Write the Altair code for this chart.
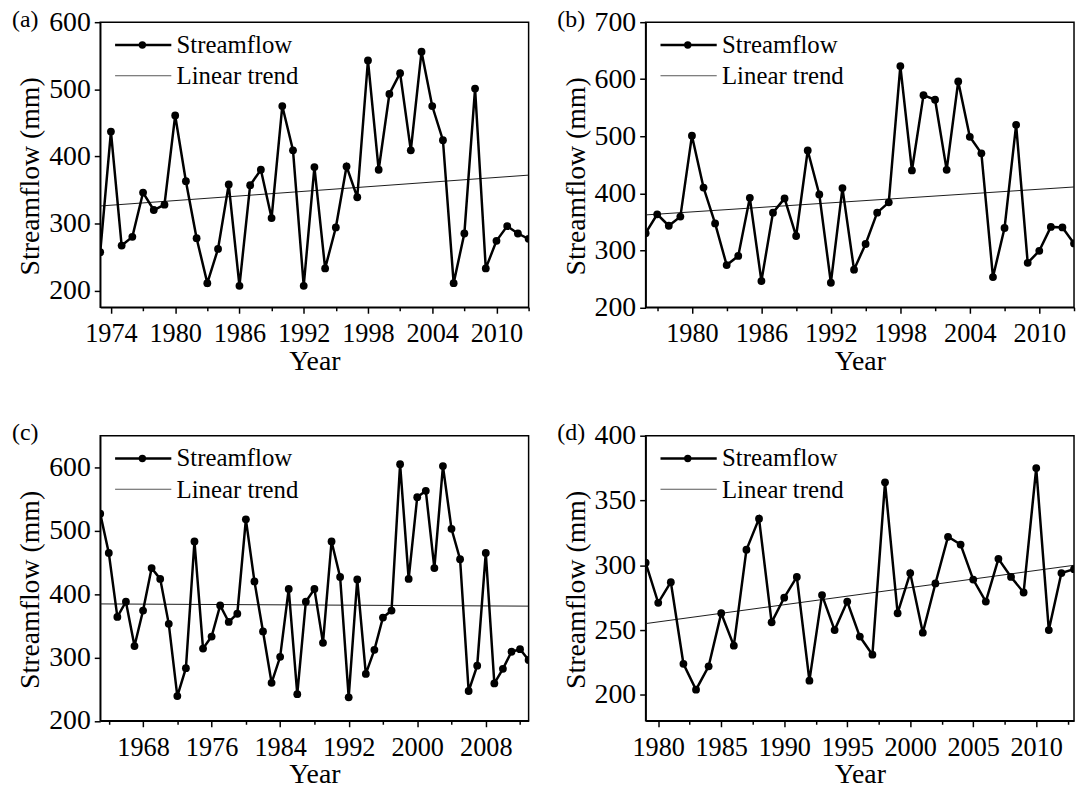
import altair as alt
import pandas as pd

FONT = "Liberation Serif"

# ---------------- data ----------------
years_a = list(range(1973, 2014))
flow_a = [257, 437, 267, 280, 346, 320, 328, 461, 363, 278, 211, 262, 358, 207,
          357, 380, 308, 475, 409, 207, 384, 233, 294, 385, 339, 543, 380, 493,
          524, 409, 556, 475, 424, 211, 285, 501, 233, 274, 296, 285, 277]
trend_a = [326, 372]

years_b = list(range(1976, 2014))
flow_b = [330, 363, 343, 359, 501, 410, 347, 274, 290, 392, 246, 366, 391, 325,
          475, 398, 243, 409, 266, 311, 366, 384, 623, 440, 572, 564, 441, 596,
          499, 470, 253, 339, 520, 278, 299, 341, 340, 312]
trend_b = [362, 411]

years_c = list(range(1963, 2014))
flow_c = [527, 465, 364, 388, 318, 374, 441, 424, 353, 239, 283, 483, 314, 333,
          382, 356, 369, 518, 420, 341, 260, 301, 408, 242, 388, 408, 323, 483,
          427, 237, 423, 274, 312, 363, 374, 605, 424, 553, 563, 441, 602, 503,
          455, 247, 287, 465, 259, 282, 309, 313, 296]
trend_c = [384.5, 381]

years_d = list(range(1979, 2014))
flow_d = [302, 271, 287, 224, 204, 222, 263, 238, 312, 336, 256, 275, 291, 211,
          277, 250, 272, 245, 231, 364, 263, 294, 248, 286, 322, 316, 289, 272,
          305, 291, 279, 375, 250, 294, 297]
trend_d = [255, 300]

# axis ticks / domains
xdom_a, ydom_a = [1973, 2013], [175, 600]
xmaj_a = [1974, 1980, 1986, 1992, 1998, 2004, 2010]
xmin_a = [1977, 1983, 1989, 1995, 2001, 2007, 2013]
ytick_a = [200, 300, 400, 500, 600]

xdom_b, ydom_b = [1976, 2013], [200, 700]
xmaj_b = [1980, 1986, 1992, 1998, 2004, 2010]
xmin_b = [1977, 1983, 1989, 1995, 2001, 2007, 2013]
ytick_b = [200, 300, 400, 500, 600, 700]

xdom_c, ydom_c = [1963, 2013], [200, 650]
xmaj_c = [1968, 1976, 1984, 1992, 2000, 2008]
xmin_c = [1964, 1972, 1980, 1988, 1996, 2004, 2012]
ytick_c = [200, 300, 400, 500, 600]

xdom_d, ydom_d = [1979, 2013], [180, 400]
xmaj_d = [1980, 1985, 1990, 1995, 2000, 2005, 2010]
xmin_d = [1982.5, 1987.5, 1992.5, 1997.5, 2002.5, 2007.5, 2012.5]
ytick_d = [200, 250, 300, 350, 400]

series_names = ["Streamflow", "Linear trend"]

W, H = 432, 287.5


def panel(label, years, flows, trend, xdom, ydom, xmaj, xmin, yticks):
    df = pd.DataFrame({"Year": years, "Flow": flows})
    tdf = pd.DataFrame({"Year": xdom, "Flow": trend})
    xs = alt.Scale(domain=xdom, nice=False, zero=False)
    ys = alt.Scale(domain=ydom, nice=False, zero=False)

    major_axis = alt.Axis(values=xmaj, format="d", title="Year", orient="bottom",
                          tickSize=6, labelPadding=8, labelFontSize=26.5,
                          titleFontSize=28, titleY=62.5, titleBaseline="alphabetic",
                          labelFont=FONT, titleFont=FONT, titleFontWeight="normal",
                          labelFlush=False, labelOverlap=False, grid=False)
    minor_axis = alt.Axis(values=xmin, labels=False, domain=False, title=None,
                          orient="bottom", tickSize=3.5, grid=False)
    y_axis = alt.Axis(values=yticks, format="d", title="Streamflow (mm)",
                      orient="left",
                      tickSize=6, labelPadding=4, labelFontSize=28,
                      titleFontSize=28, titleAngle=270, titleX=-70,
                      titleY=155, titleBaseline="middle", titleAlign="center",
                      labelFont=FONT, titleFont=FONT, titleFontWeight="normal",
                      labelFlush=False, labelOverlap=False, grid=False)

    line = alt.Chart(df).mark_line(color="black", strokeWidth=2.5, clip=True).encode(
        x=alt.X("Year:Q", scale=xs, axis=major_axis),
        y=alt.Y("Flow:Q", scale=ys, axis=y_axis),
    )
    pts = alt.Chart(df).mark_circle(color="black", size=62, opacity=1, clip=True).encode(
        x=alt.X("Year:Q", scale=xs, axis=None),
        y=alt.Y("Flow:Q", scale=ys, axis=y_axis),
    )
    tr = alt.Chart(tdf).mark_line(color="#1a1a1a", strokeWidth=1, clip=True).encode(
        x=alt.X("Year:Q", scale=xs, axis=minor_axis),
        y=alt.Y("Flow:Q", scale=ys, axis=y_axis),
    )

    one = pd.DataFrame({"k": [0]})
    leg1 = alt.Chart(one).mark_rule(color="black", strokeWidth=2.5).encode(
        x=alt.value(15), x2=alt.value(71.7), y=alt.value(23))
    legdot = alt.Chart(one).mark_circle(color="black", size=55, opacity=1).encode(
        x=alt.value(42.5), y=alt.value(23))
    leg2 = alt.Chart(one).mark_rule(color="#555555", strokeWidth=1).encode(
        x=alt.value(15), x2=alt.value(71.7), y=alt.value(54))
    t1 = alt.Chart(one).mark_text(font=FONT, fontSize=25, align="left",
                                  baseline="alphabetic", color="black").encode(
        x=alt.value(77), y=alt.value(31), text=alt.value(series_names[0]))
    t2 = alt.Chart(one).mark_text(font=FONT, fontSize=25, align="left",
                                  baseline="alphabetic", color="black").encode(
        x=alt.value(77), y=alt.value(62.5), text=alt.value(series_names[1]))
    lab = alt.Chart(one).mark_text(font=FONT, fontSize=24, align="left",
                                   baseline="alphabetic", color="black").encode(
        x=alt.value(-89), y=alt.value(4.5), text=alt.value(label))

    return alt.layer(tr, line, pts, leg1, legdot, leg2, t1, t2, lab).resolve_axis(
        x="independent").properties(width=W, height=H)


pa = panel("(a)", years_a, flow_a, trend_a, xdom_a, ydom_a, xmaj_a, xmin_a, ytick_a)
pb = panel("(b)", years_b, flow_b, trend_b, xdom_b, ydom_b, xmaj_b, xmin_b, ytick_b)
pc = panel("(c)", years_c, flow_c, trend_c, xdom_c, ydom_c, xmaj_c, xmin_c, ytick_c)
pd_ = panel("(d)", years_d, flow_d, trend_d, xdom_d, ydom_d, xmaj_d, xmin_d, ytick_d)

chart = alt.concat(pa, pb, pc, pd_, columns=2,
                   spacing={"row": 129, "column": 118},
                   bounds="flush").properties(
    padding={"left": 3, "top": -5, "right": 0, "bottom": 0},
    background="white"
).configure_view(
    stroke="black", strokeWidth=1.5
).configure_axis(
    labelFont=FONT, titleFont=FONT, labelColor="black", titleColor="black",
    titleFontWeight="normal", domainColor="black", domainWidth=1.5,
    tickColor="black", tickWidth=1.5
)

chart.save("out.html", embed_options={"renderer": "svg", "actions": False})
